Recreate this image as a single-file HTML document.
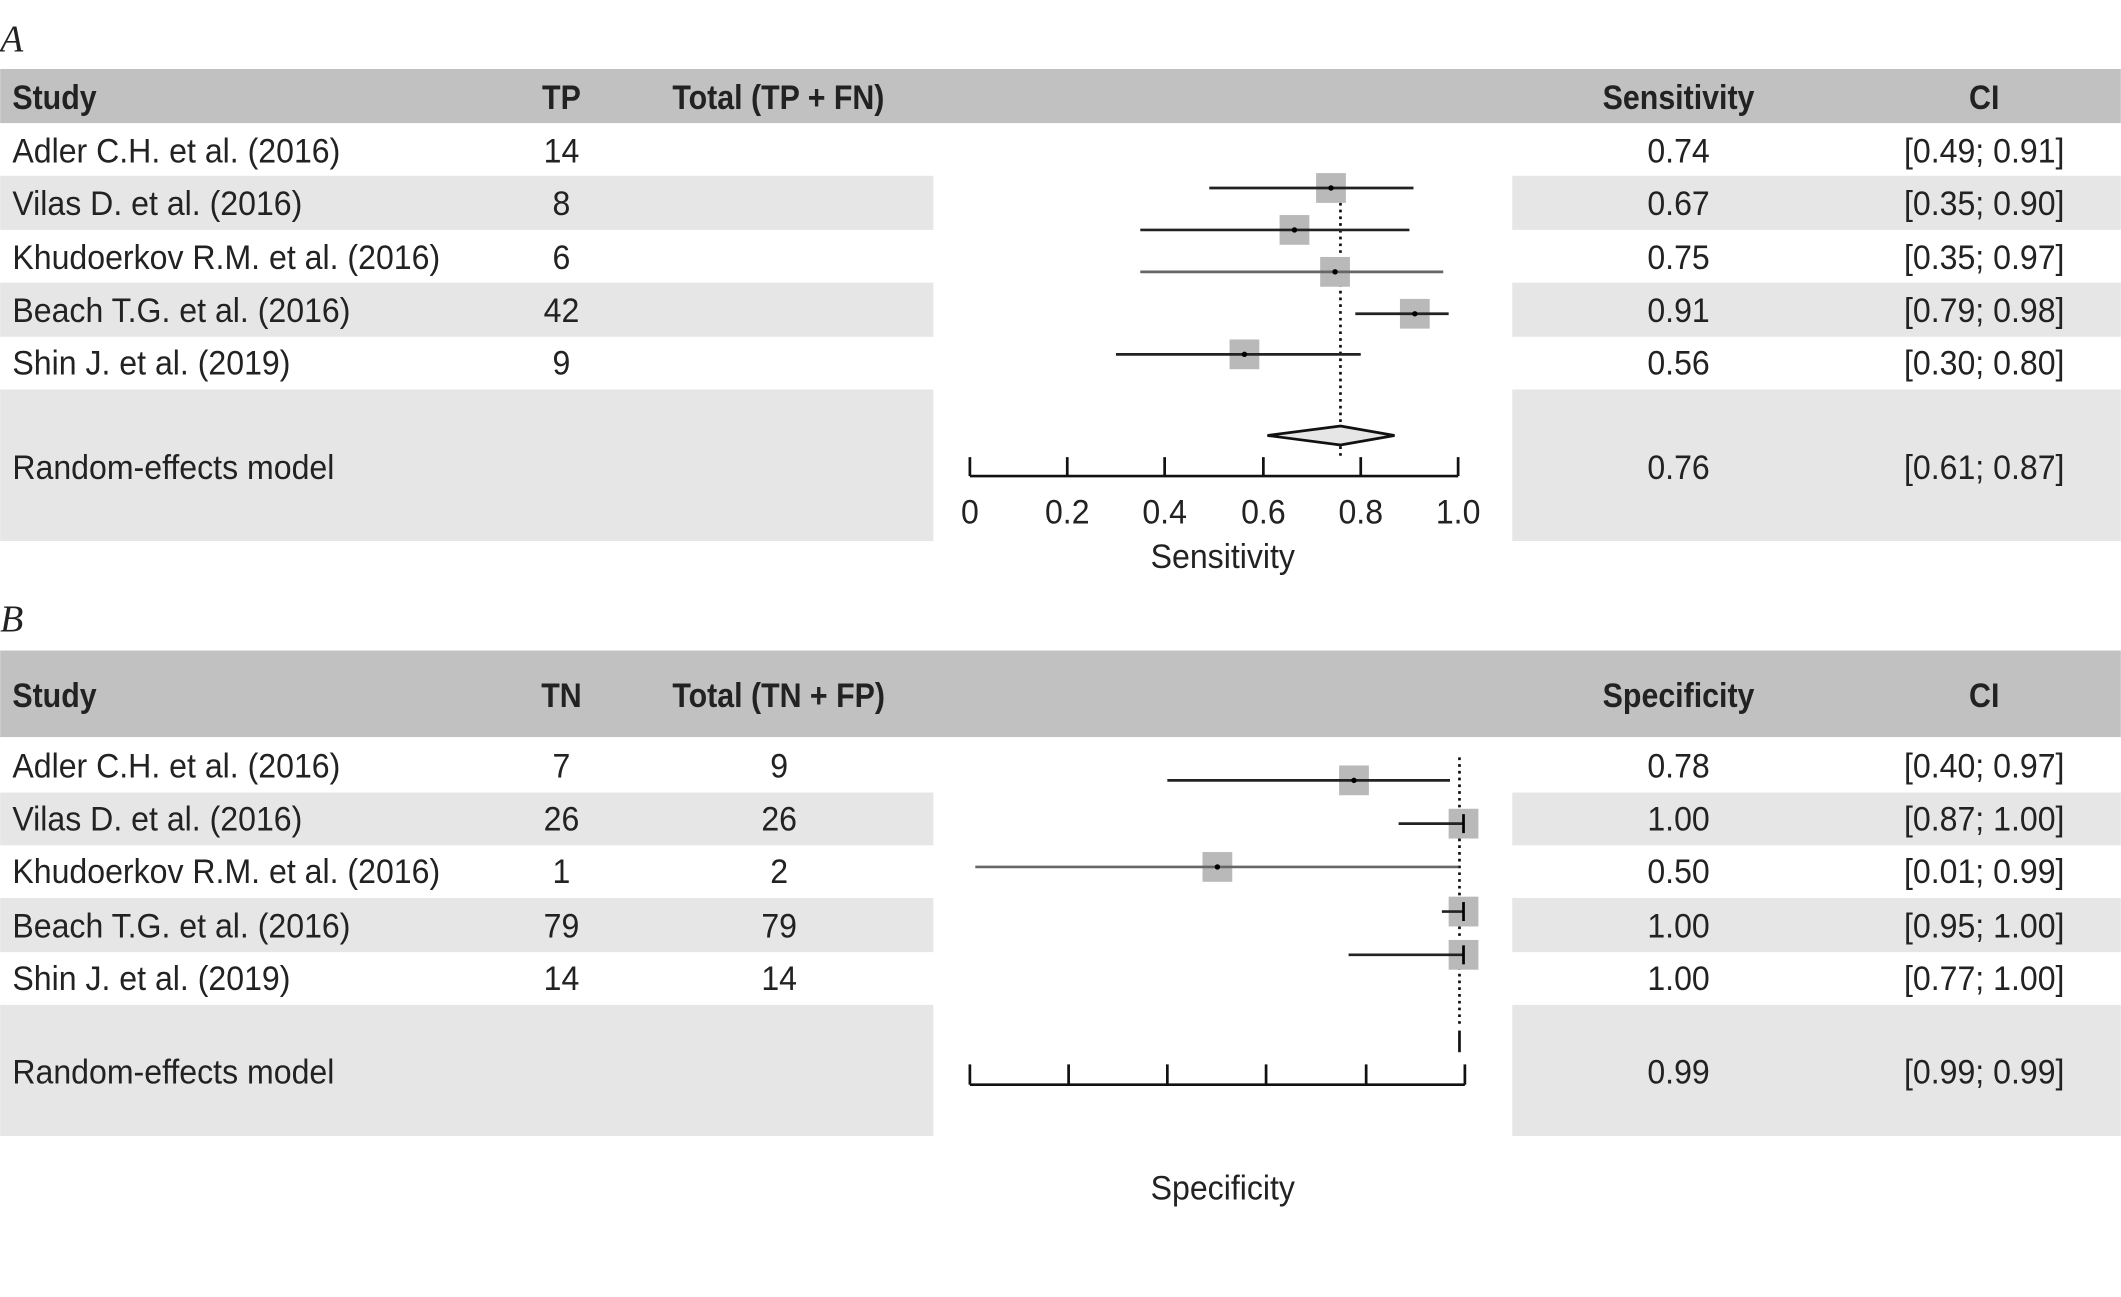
<!DOCTYPE html>
<html><head><meta charset="utf-8"><style>
html,body{margin:0;padding:0;background:#fff;}
svg{display:block;}
text{font-family:"Liberation Sans Narrow","Liberation Sans",sans-serif;font-size:25.5px;fill:#222;transform-box:fill-box;transform-origin:left center;transform:scaleX(0.93);}
.h{font-weight:bold;transform:scaleX(0.88);}
.c{text-anchor:middle;transform-origin:center center;}
.L{font-family:"Liberation Serif",serif;font-style:italic;font-size:28px;transform:none;}
</style></head><body>
<svg width="2121" height="1297" viewBox="0 0 1568 959" xmlns="http://www.w3.org/2000/svg">
<rect width="1568" height="959" fill="#fff"/>
<!-- Panel A -->
<text class="L" x="0" y="38">A</text>
<rect x="0" y="51" width="1568" height="40" fill="#c1c1c2"/>
<g fill="#e6e6e7">
<rect x="0" y="130" width="690" height="40"/><rect x="1118" y="130" width="450" height="40"/>
<rect x="0" y="209" width="690" height="40"/><rect x="1118" y="209" width="450" height="40"/>
<rect x="0" y="288" width="690" height="112"/><rect x="1118" y="288" width="450" height="112"/>
</g>
<g dominant-baseline="central">
<text class="h" x="9" y="72">Study</text><text class="h c" x="415" y="72">TP</text><text class="h" x="497" y="72">Total (TP + FN)</text>
<text class="h c" x="1241" y="72">Sensitivity</text><text class="h c" x="1467" y="72">CI</text>
<text x="9" y="112">Adler C.H. et al. (2016)</text><text class="c" x="415" y="112">14</text><text class="c" x="1241" y="112">0.74</text><text class="c" x="1467" y="112">[0.49; 0.91]</text>
<text x="9" y="151">Vilas D. et al. (2016)</text><text class="c" x="415" y="151">8</text><text class="c" x="1241" y="151">0.67</text><text class="c" x="1467" y="151">[0.35; 0.90]</text>
<text x="9" y="191">Khudoerkov R.M. et al. (2016)</text><text class="c" x="415" y="191">6</text><text class="c" x="1241" y="191">0.75</text><text class="c" x="1467" y="191">[0.35; 0.97]</text>
<text x="9" y="230">Beach T.G. et al. (2016)</text><text class="c" x="415" y="230">42</text><text class="c" x="1241" y="230">0.91</text><text class="c" x="1467" y="230">[0.79; 0.98]</text>
<text x="9" y="269">Shin J. et al. (2019)</text><text class="c" x="415" y="269">9</text><text class="c" x="1241" y="269">0.56</text><text class="c" x="1467" y="269">[0.30; 0.80]</text>
<text x="9" y="346">Random-effects model</text><text class="c" x="1241" y="346">0.76</text><text class="c" x="1467" y="346">[0.61; 0.87]</text>
<text class="c" x="717" y="379">0</text><text class="c" x="789" y="379">0.2</text><text class="c" x="861" y="379">0.4</text><text class="c" x="934" y="379">0.6</text><text class="c" x="1006" y="379">0.8</text><text class="c" x="1078" y="379">1.0</text>
<text class="c" x="904" y="412">Sensitivity</text>
</g>
<line x1="991" y1="130" x2="991" y2="338" stroke="#111" stroke-width="2" stroke-dasharray="2,3"/>
<g stroke="#111" stroke-width="2">
<line x1="717" y1="352" x2="1078" y2="352"/>
<line x1="717" y1="338" x2="717" y2="352"/><line x1="789" y1="338" x2="789" y2="352"/><line x1="861" y1="338" x2="861" y2="352"/><line x1="934" y1="338" x2="934" y2="352"/><line x1="1006" y1="338" x2="1006" y2="352"/><line x1="1078" y1="338" x2="1078" y2="352"/>
</g>
<g fill="#b9b9b9">
<rect x="973" y="128" width="22" height="22"/><rect x="946" y="159" width="22" height="22"/><rect x="976" y="190" width="22" height="22"/><rect x="1035" y="221" width="22" height="22"/><rect x="909" y="251" width="22" height="22"/>
</g>
<g stroke="#222" stroke-width="2">
<line x1="894" y1="139" x2="1045" y2="139"/><line x1="843" y1="170" x2="1042" y2="170"/><line x1="843" y1="201" x2="1067" y2="201" stroke="#666"/><line x1="1002" y1="232" x2="1071" y2="232"/><line x1="825" y1="262" x2="1006" y2="262"/>
</g>
<g fill="#000"><circle cx="984" cy="139" r="2"/><circle cx="957" cy="170" r="2"/><circle cx="987" cy="201" r="2"/><circle cx="1046" cy="232" r="2"/><circle cx="920" cy="262" r="2"/></g>
<polygon points="937,322 991,315 1031,322 991,329" fill="#e6e6e7" stroke="#111" stroke-width="2"/>

<!-- Panel B -->
<text class="L" x="0" y="467">B</text>
<rect x="0" y="481" width="1568" height="64" fill="#c1c1c2"/>
<g fill="#e6e6e7">
<rect x="0" y="586" width="690" height="39"/><rect x="1118" y="586" width="450" height="39"/>
<rect x="0" y="664" width="690" height="40"/><rect x="1118" y="664" width="450" height="40"/>
<rect x="0" y="743" width="690" height="97"/><rect x="1118" y="743" width="450" height="97"/>
</g>
<g dominant-baseline="central">
<text class="h" x="9" y="514">Study</text><text class="h c" x="415" y="514">TN</text><text class="h" x="497" y="514">Total (TN + FP)</text>
<text class="h c" x="1241" y="514">Specificity</text><text class="h c" x="1467" y="514">CI</text>
<text x="9" y="567">Adler C.H. et al. (2016)</text><text class="c" x="415" y="567">7</text><text class="c" x="576" y="567">9</text><text class="c" x="1241" y="567">0.78</text><text class="c" x="1467" y="567">[0.40; 0.97]</text>
<text x="9" y="606">Vilas D. et al. (2016)</text><text class="c" x="415" y="606">26</text><text class="c" x="576" y="606">26</text><text class="c" x="1241" y="606">1.00</text><text class="c" x="1467" y="606">[0.87; 1.00]</text>
<text x="9" y="645">Khudoerkov R.M. et al. (2016)</text><text class="c" x="415" y="645">1</text><text class="c" x="576" y="645">2</text><text class="c" x="1241" y="645">0.50</text><text class="c" x="1467" y="645">[0.01; 0.99]</text>
<text x="9" y="685">Beach T.G. et al. (2016)</text><text class="c" x="415" y="685">79</text><text class="c" x="576" y="685">79</text><text class="c" x="1241" y="685">1.00</text><text class="c" x="1467" y="685">[0.95; 1.00]</text>
<text x="9" y="724">Shin J. et al. (2019)</text><text class="c" x="415" y="724">14</text><text class="c" x="576" y="724">14</text><text class="c" x="1241" y="724">1.00</text><text class="c" x="1467" y="724">[0.77; 1.00]</text>
<text x="9" y="793">Random-effects model</text><text class="c" x="1241" y="793">0.99</text><text class="c" x="1467" y="793">[0.99; 0.99]</text>
<text class="c" x="904" y="879">Specificity</text>
</g>
<line x1="1079" y1="560" x2="1079" y2="760" stroke="#111" stroke-width="2" stroke-dasharray="2,3"/>
<line x1="1079" y1="762" x2="1079" y2="778" stroke="#111" stroke-width="2"/>
<g stroke="#111" stroke-width="2">
<line x1="717" y1="802" x2="1083" y2="802"/>
<line x1="717" y1="787" x2="717" y2="802"/><line x1="790" y1="787" x2="790" y2="802"/><line x1="863" y1="787" x2="863" y2="802"/><line x1="936" y1="787" x2="936" y2="802"/><line x1="1010" y1="787" x2="1010" y2="802"/><line x1="1083" y1="787" x2="1083" y2="802"/>
</g>
<g fill="#b9b9b9">
<rect x="990" y="566" width="22" height="22"/><rect x="1071" y="598" width="22" height="22"/><rect x="889" y="630" width="22" height="22"/><rect x="1071" y="663" width="22" height="22"/><rect x="1071" y="695" width="22" height="22"/>
</g>
<g stroke="#222" stroke-width="2">
<line x1="863" y1="577" x2="1072" y2="577"/><line x1="1034" y1="609" x2="1082" y2="609"/><line x1="721" y1="641" x2="1078" y2="641" stroke="#666"/><line x1="1066" y1="674" x2="1082" y2="674"/><line x1="997" y1="706" x2="1082" y2="706"/>
</g>
<g stroke="#000" stroke-width="2"><line x1="1082" y1="602" x2="1082" y2="616"/><line x1="1082" y1="667" x2="1082" y2="681"/><line x1="1082" y1="699" x2="1082" y2="713"/></g>
<g fill="#000"><circle cx="1001" cy="577" r="2"/><circle cx="900" cy="641" r="2"/></g>
</svg>
</body></html>
